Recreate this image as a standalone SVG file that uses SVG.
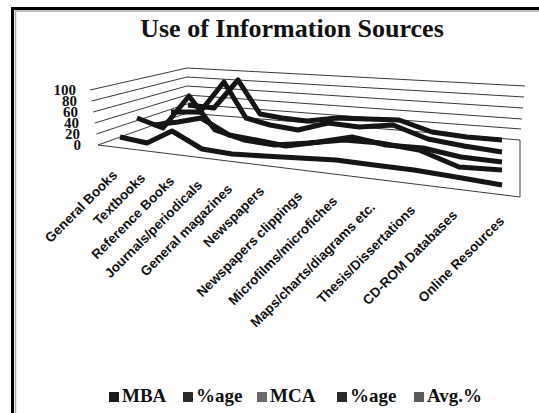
<svg xmlns="http://www.w3.org/2000/svg" width="539" height="413" viewBox="0 0 539 413">
<style>
.grid{fill:none;stroke:#3a3a3a;stroke-width:1}
.ser{fill:none;stroke:#151515;stroke-width:5;stroke-linejoin:round;stroke-linecap:butt}
.ax{font-family:"Liberation Serif",serif;font-weight:bold;font-size:15px;fill:#111;text-anchor:end}
.cat{font-family:"Liberation Sans",Arial,sans-serif;font-weight:bold;font-size:13.5px;fill:#111;text-anchor:end}
.leg{font-family:"Liberation Serif",serif;font-weight:bold;font-size:19px;fill:#111}
.title{font-family:"Liberation Serif",serif;font-weight:bold;font-size:26px;fill:#111;text-anchor:middle}
</style>
<rect width="539" height="413" fill="#fff"/>
<g id="frame">
<rect x="12.5" y="8.5" width="540" height="420" fill="none" stroke="#000" stroke-width="3"/>
<path d="M15.5 11 V413 M15 11 H539" fill="none" stroke="#aaa" stroke-width="1.5"/>
</g>
<g id="title"><text class="title" x="292" y="37">Use of Information Sources</text></g>
<g id="walls">
<path class="grid" d="M90 90 L187 68 L525 86"/>
<path class="grid" d="M91.6 101 L187 77 L524 97"/>
<path class="grid" d="M93.2 112 L187 86 L523 108"/>
<path class="grid" d="M94.8 123 L187 95 L522 119"/>
<path class="grid" d="M96.4 134 L187 104 L521 129"/>
<path class="grid" d="M98 145 L187 113 L520 140"/>
<path class="grid" d="M98 145 L520 197 L520 140"/>
</g>
<g id="axis-values">
<text class="ax" x="76" y="95">100</text>
<text class="ax" x="77" y="106">80</text>
<text class="ax" x="78" y="117">60</text>
<text class="ax" x="79" y="128">40</text>
<text class="ax" x="80" y="139">20</text>
<text class="ax" x="81" y="150">0</text>
</g>
<g id="connectors">
<polyline id="s-avg" class="ser" points="188,105 214,108 238,80 260,114 282,118 307,121 337,118 367,119 399,120 432,132 467,137 502,140"/>
<polyline id="s-pct-mca" class="ser" points="171,112 200,112 224,82 246,118 270,125 298,130 328,123 359,127 393,125 428,139 464,146 502,152"/>
<polyline id="s-mca" class="ser" points="154,125 178,122 201,118 229,135 256,140 286,146 319,142 352,137 386,145 423,148 461,157 502,162"/>
<polyline id="s-pct-mba" class="ser" points="137,118 163,128 189,96 215,130 244,140 275,145 309,143 344,140 380,143 419,150 459,167 502,170"/>
<polyline id="s-mba" class="ser" points="120,137 147,143 172,131 202,149 232,154 264,156 300,158 336,160 374,165 414,170 456,177 502,185"/>
</g>
<g id="categories">
<text class="cat" transform="translate(118,176) rotate(-45)">General Books</text>
<text class="cat" transform="translate(146,179) rotate(-45)">Textbooks</text>
<text class="cat" transform="translate(175,182) rotate(-45)">Reference Books</text>
<text class="cat" transform="translate(203,186) rotate(-45)">Journals/periodicals</text>
<text class="cat" transform="translate(233,190) rotate(-45)">General magazines</text>
<text class="cat" transform="translate(265,192) rotate(-45)">Newspapers</text>
<text class="cat" transform="translate(303,197) rotate(-45)">Newspapers clippings</text>
<text class="cat" transform="translate(338,202) rotate(-45)">Microfilms/microfiches</text>
<text class="cat" transform="translate(376,208) rotate(-45)">Maps/charts/diagrams etc.</text>
<text class="cat" transform="translate(416,211) rotate(-45)">Thesis/Dissertations</text>
<text class="cat" transform="translate(458,216) rotate(-45)">CD-ROM Databases</text>
<text class="cat" transform="translate(505,222) rotate(-45)">Online Resources</text>
</g>
<g id="legend">
<rect x="109" y="392" width="10" height="10" fill="#1a1a1a"/>
<text class="leg" x="122" y="402">MBA</text>
<rect x="183" y="392" width="10" height="10" fill="#2a2a2a"/>
<text class="leg" x="196" y="402">%age</text>
<rect x="257" y="392" width="10" height="10" fill="#6a6a6a"/>
<text class="leg" x="270" y="402">MCA</text>
<rect x="337" y="392" width="10" height="10" fill="#2a2a2a"/>
<text class="leg" x="350" y="402">%age</text>
<rect x="414" y="392" width="10" height="10" fill="#5a5a5a"/>
<text class="leg" x="427" y="402">Avg.%</text>
</g>
</svg>
